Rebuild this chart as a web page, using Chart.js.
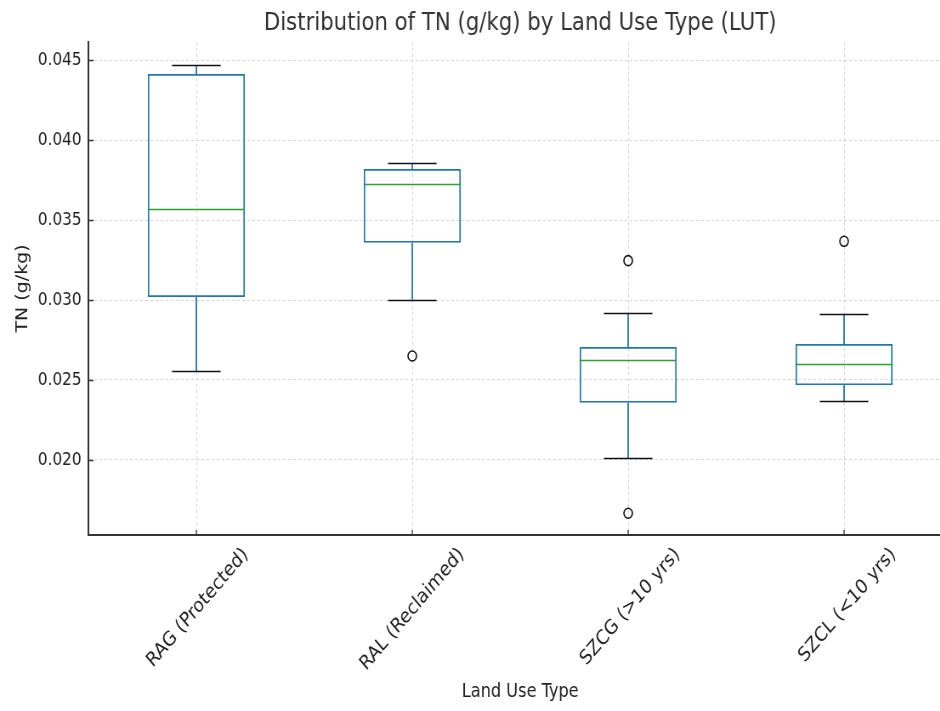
<!DOCTYPE html>
<html>
<head>
<meta charset="utf-8">
<script src="https://cdn.jsdelivr.net/npm/chart.js@4/dist/chart.umd.min.js"></script>
<style>
  html, body { margin: 0; padding: 0; background: #fff; overflow: hidden; }
  /* the reference is a horizontally squeezed picture: draw wide, then squeeze */
  #wrap { position: relative; width: 1222px; height: 711px; transform: scaleX(0.85); transform-origin: 0 0; }
</style>
</head>
<body>
<div id="wrap"><canvas id="box-chart"></canvas></div>
<script>
// land use types and box statistics
const categories = ['RAG (Protected)', 'RAL (Reclaimed)', 'SZCG (>10 yrs)', 'SZCL (<10 yrs)'];
const whiskerLow = [0.02556, 0.03002, 0.02010, 0.02369];
const q1 = [0.03019, 0.03358, 0.02358, 0.02467];
const medians = [0.03569, 0.03727, 0.02625, 0.02598];
const q3 = [0.04413, 0.03819, 0.02706, 0.02725];
const whiskerHigh = [0.04469, 0.03856, 0.02919, 0.02911];
const outliers = [
  { x: 'RAL (Reclaimed)', y: 0.02650 },
  { x: 'SZCG (>10 yrs)', y: 0.03246 },
  { x: 'SZCG (>10 yrs)', y: 0.01667 },
  { x: 'SZCL (<10 yrs)', y: 0.03367 }
];
const yTicks = [0.020, 0.025, 0.030, 0.035, 0.040, 0.045];

const BLUE = '#1f77b4';
const GREEN = '#2ca02c';
const font = "'DejaVu Sans', sans-serif";

// whiskers, caps, medians and inward tick marks
const boxParts = {
  id: 'boxParts',
  afterDatasetsDraw(chart) {
    const { ctx, scales: { x, y } } = chart;
    const bars = chart.getDatasetMeta(0).data;
    ctx.save();
    categories.forEach((cat, i) => {
      const cx = x.getPixelForValue(i);
      const half = bars[i].width / 2;
      const capHalf = half / 2;
      ctx.lineWidth = 1.8;
      ctx.strokeStyle = BLUE;
      ctx.beginPath();
      ctx.moveTo(cx, y.getPixelForValue(q3[i]));
      ctx.lineTo(cx, y.getPixelForValue(whiskerHigh[i]));
      ctx.moveTo(cx, y.getPixelForValue(q1[i]));
      ctx.lineTo(cx, y.getPixelForValue(whiskerLow[i]));
      ctx.stroke();

      ctx.lineWidth = 1.6;
      ctx.strokeStyle = '#111';
      ctx.beginPath();
      [whiskerHigh[i], whiskerLow[i]].forEach(v => {
        const py = Math.round(y.getPixelForValue(v)) + 0.5;
        ctx.moveTo(cx - capHalf, py);
        ctx.lineTo(cx + capHalf, py);
      });
      ctx.stroke();

      ctx.strokeStyle = GREEN;
      ctx.beginPath();
      const my = Math.round(y.getPixelForValue(medians[i])) + 0.5;
      ctx.moveTo(cx - half, my);
      ctx.lineTo(cx + half, my);
      ctx.stroke();
    });

    ctx.strokeStyle = '#333';
    ctx.lineWidth = 1.3;
    ctx.beginPath();
    const area = chart.chartArea;
    yTicks.forEach(v => {
      const py = Math.round(y.getPixelForValue(v)) + 0.5;
      ctx.moveTo(area.left, py);
      ctx.lineTo(area.left + 6, py);
    });
    categories.forEach((c, i) => {
      const px = x.getPixelForValue(i);
      ctx.moveTo(px, area.bottom);
      ctx.lineTo(px, area.bottom - 5);
    });
    ctx.stroke();
    ctx.restore();
  }
};

new Chart(document.getElementById('box-chart'), {
  data: {
    labels: categories,
    datasets: [
      {
        type: 'bar',
        data: categories.map((c, i) => [q1[i], q3[i]]),
        backgroundColor: 'rgba(0,0,0,0)',
        borderColor: BLUE,
        borderWidth: 1.8,
        borderSkipped: false,
        barPercentage: 0.45,
        categoryPercentage: 1
      },
      {
        type: 'line',
        data: outliers,
        showLine: false,
        pointStyle: 'circle',
        pointRadius: 5,
        pointBorderWidth: 1.6,
        pointBackgroundColor: 'rgba(0,0,0,0)',
        pointBorderColor: '#111'
      }
    ]
  },
  options: {
    responsive: true,
    maintainAspectRatio: false,
    animation: false,
    layout: { padding: { left: 0, right: 102, top: 0, bottom: 0 } },
    plugins: {
      legend: { display: false },
      tooltip: { enabled: false },
      title: {
        display: true,
        fullSize: false,
        text: 'Distribution of TN (g/kg) by Land Use Type (LUT)',
        color: '#333',
        font: { family: font, size: 25, weight: 'normal', lineHeight: 1.2 },
        padding: { top: 8, bottom: 4 }
      }
    },
    scales: {
      x: {
        type: 'category',
        offset: true,
        grid: {
          offset: false,
          color: '#d0d0d0',
          lineWidth: 0.9,
          drawTicks: false
        },
        border: { display: true, color: '#333', width: 2, dash: [3, 3] },
        ticks: {
          maxRotation: 45,
          minRotation: 45,
          padding: 8,
          labelOffset: 58,
          color: '#222',
          font: { family: font, size: 20 }
        },
        title: {
          display: true,
          text: 'Land Use Type',
          color: '#222',
          font: { family: font, size: 19 },
          padding: { top: 4, bottom: 8 }
        },
        afterFit(scale) { scale.height = 176; }
      },
      y: {
        type: 'linear',
        min: 0.01531,
        max: 0.04613,
        afterBuildTicks(scale) { scale.ticks = yTicks.map(v => ({ value: v })); },
        grid: {
          color: '#d0d0d0',
          lineWidth: 0.9,
          drawTicks: false
        },
        border: { display: true, color: '#333', width: 2, dash: [3, 3] },
        ticks: {
          padding: 8,
          color: '#222',
          font: { family: font, size: 18 },
          callback: v => v.toFixed(3)
        },
        title: {
          display: true,
          text: 'TN (g/kg)',
          color: '#222',
          font: { family: font, size: 19 },
          padding: 16
        },
        afterFit(scale) { scale.width = 104; }
      }
    }
  },
  plugins: [boxParts]
});
</script>
</body>
</html>
